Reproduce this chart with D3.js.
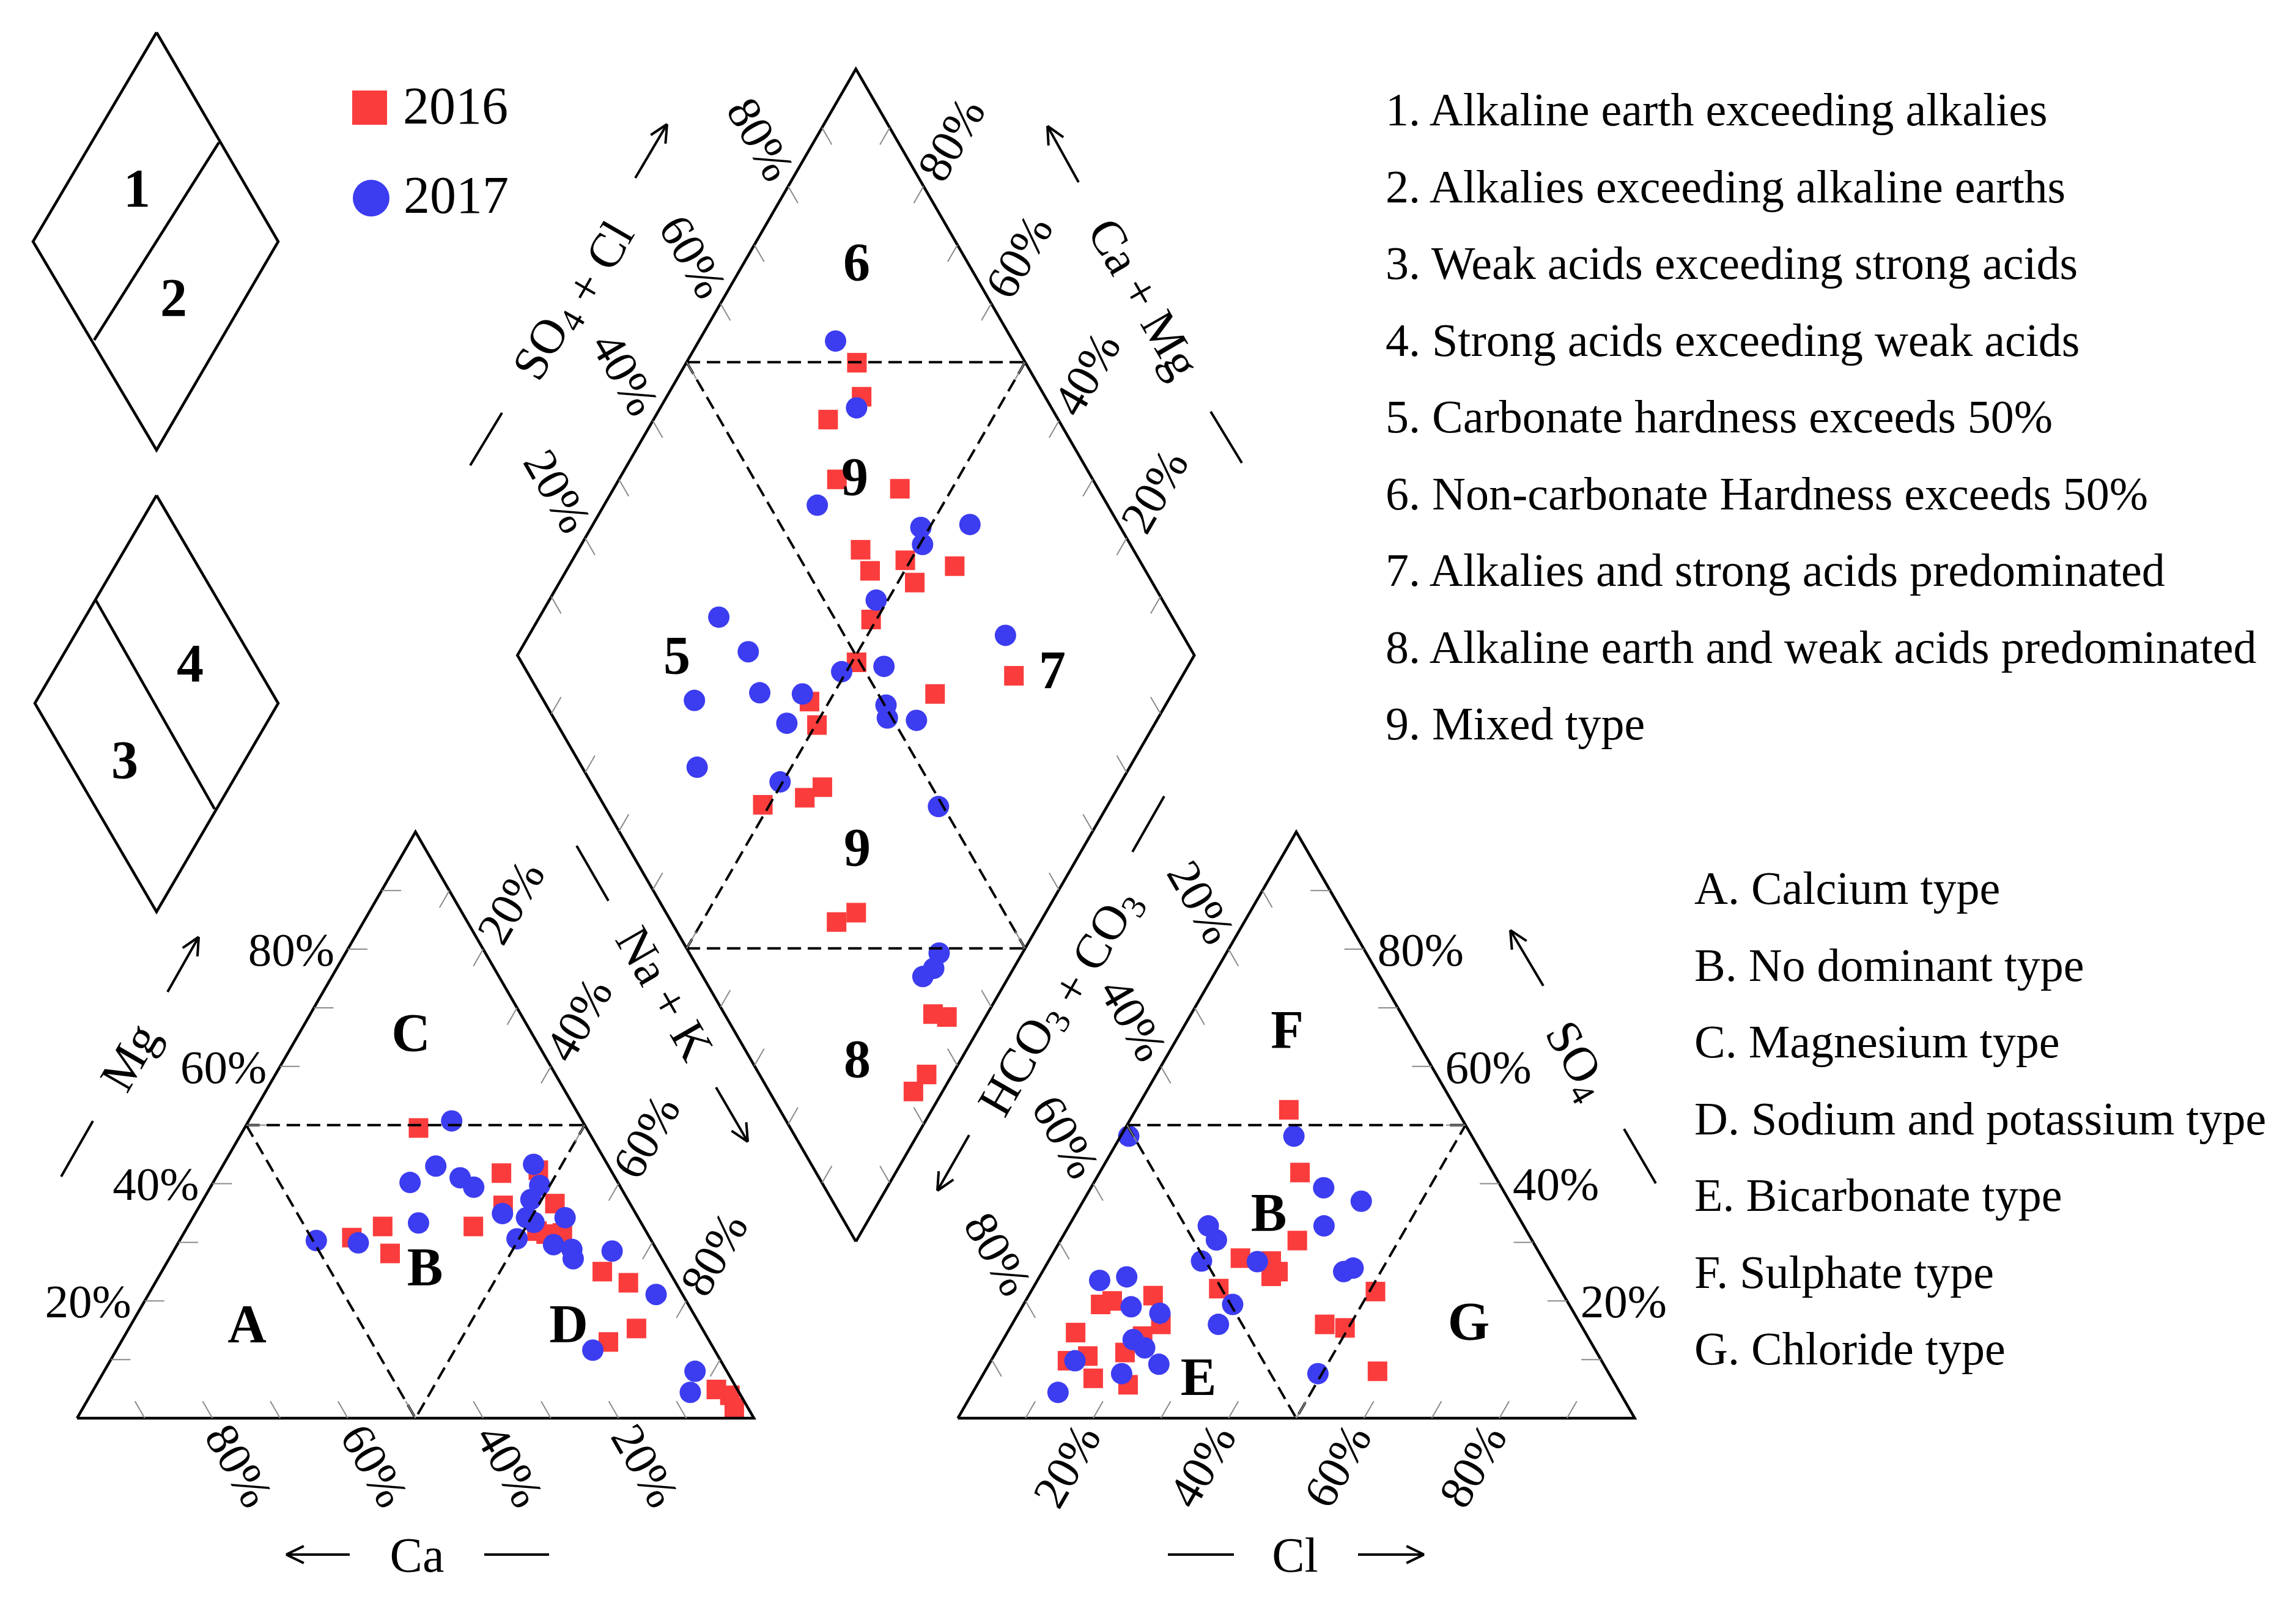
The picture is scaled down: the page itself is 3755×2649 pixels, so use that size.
<!DOCTYPE html>
<html>
<head>
<meta charset="utf-8">
<script src="https://cdn.jsdelivr.net/npm/d3@7"></script>
<style>
body { margin: 0; background: #fff; }
svg { display: block; }
text { font-family: "Liberation Serif", "Times New Roman", serif; fill: #000; }
</style>
</head>
<body>
<div id="chart"></div>
<script>
// values, in percent
const years = ["2016", "2017"];

// cation triangle: [Mg, Na+K]
const cation2016 = [[49.5,25.7],[41.8,41.8],[42.3,47.0],[36.3,44.8],[36.6,52.3],[32.7,42.2],[32.7,28.8],[30.8,25.2],[28.1,32.2],[31.9,52.0],[31.6,55.9],[31.4,53.6],[25.0,65.1],[23.1,69.9],[15.3,75.0],[13.0,72.0],[4.9,92.0],[3.9,94.5],[1.8,96.2]];
const cation2017 = [[50.7,30.0],[43.0,31.5],[40.2,29.1],[41.0,36.1],[39.4,38.9],[43.3,45.8],[39.7,48.5],[37.3,48.4],[34.9,45.4],[34.2,49.3],[33.4,50.8],[34.2,55.0],[33.3,33.8],[30.3,20.2],[29.9,26.6],[30.6,49.7],[29.6,55.6],[28.8,58.7],[27.2,59.7],[28.5,64.8],[21.1,75.0],[11.6,70.4],[8.0,87.3],[4.4,88.4]];

// anion triangle: [SO4, Cl]
const anion2016 = [[52.6,22.6],[41.9,29.6],[30.3,35.0],[27.3,28.1],[26.8,32.9],[25.0,34.8],[24.2,34.2],[22.1,27.5],[21.6,50.9],[16.0,46.2],[15.4,49.5],[8.0,58.0],[20.9,18.4],[19.4,11.4],[20.0,12.8],[16.0,22.0],[14.6,10.1],[10.6,13.9],[9.8,11.3],[6.8,16.6],[11.2,19.1],[5.7,22.3],[14.0,20.3]];
const anion2017 = [[48.1,1.2],[48.1,25.6],[39.3,34.4],[37.0,41.1],[32.8,37.7],[32.8,20.6],[30.4,23.0],[26.8,22.6],[26.7,30.9],[25.0,44.5],[25.6,45.6],[19.4,30.9],[16.0,30.5],[23.5,9.2],[24.1,12.9],[19.0,16.1],[17.9,20.9],[13.4,19.2],[12.0,21.6],[9.2,25.1],[9.8,12.4],[7.6,20.4],[4.4,12.6],[7.6,49.4]];

// diamond: [SO4+Cl, Ca+Mg]
const diamond2016 = [[75.1,74.8],[72.9,71.2],[66.0,74.2],[62.2,67.8],[70.7,57.7],[59.7,58.3],[59.3,55.1],[65.4,50.8],[64.9,47.5],[72.2,43.0],[55.3,50.8],[49.5,49.3],[71.6,24.9],[58.4,35.0],[39.2,52.9],[38.3,49.8],[23.5,51.0],[30.3,45.4],[33.8,43.7],[24.4,30.1],[28.1,28.0],[30.8,8.0],[32.6,5.7],[24.7,3.8],[21.3,4.3]];
const diamond2017 = [[73.8,79.8],[71.2,71.0],[57.1,68.5],[70.5,51.3],[69.3,49.6],[78.0,44.3],[57.7,51.7],[73.8,29.6],[33.0,73.5],[34.4,66.2],[46.5,50.7],[53.2,44.9],[22.3,70.0],[32.6,61.0],[38.8,54.6],[50.2,41.3],[49.3,40.0],[53.4,35.5],[34.0,54.4],[17.0,63.9],[28.0,50.4],[49.3,24.9],[36.9,12.3],[34.8,11.8],[32.5,12.7]];

const tickValues = [10, 20, 30, 40, 50, 60, 70, 80, 90];
const tickLabels = [20, 40, 60, 80];

const diamondClasses = [
  "1. Alkaline earth exceeding alkalies",
  "2. Alkalies exceeding alkaline earths",
  "3. Weak acids exceeding strong acids",
  "4. Strong acids exceeding weak acids",
  "5. Carbonate hardness exceeds 50%",
  "6. Non-carbonate Hardness exceeds 50%",
  "7. Alkalies and strong acids predominated",
  "8. Alkaline earth and weak acids predominated",
  "9. Mixed type"
];
const triangleClasses = [
  "A. Calcium type",
  "B. No dominant type",
  "C. Magnesium type",
  "D. Sodium and potassium type",
  "E. Bicarbonate type",
  "F. Sulphate type",
  "G. Chloride type"
];

const red = "#fb3c3c", blue = "#3c3cf0";

const width = 3755, height = 2649;
const side = 1107, gap = 333.5, baseY = 2319, x0L = 126;
const r3 = Math.sqrt(3) / 2;

// percent -> pixel
const len = d3.scaleLinear().domain([0, 100]).range([0, side]);
const hgt = d3.scaleLinear().domain([0, 100]).range([0, side * r3]);

const x0R = x0L + side + gap;
const bx = x0L + side + gap / 2, by = baseY - gap * r3;

function cat(mg, nak) { return [x0L + len(nak + mg / 2), baseY - hgt(mg)]; }
function an(so4, cl) { return [x0R + len(cl + so4 / 2), baseY - hgt(so4)]; }
function dia(a, m) { return [bx + len(a - m) / 2, by - hgt(a + m)]; }

const svg = d3.select("#chart").append("svg")
  .attr("width", width).attr("height", height);

const gMarks = svg.append("g");
const gLines = svg.append("g");
const gText = svg.append("g");

// markers
function squares(pts, f) {
  gMarks.selectAll(null).data(pts).join("rect")
    .attr("x", d => f(d[0], d[1])[0] - 16)
    .attr("y", d => f(d[0], d[1])[1] - 16)
    .attr("width", 32).attr("height", 32)
    .attr("fill", red);
}
function circles(pts, f) {
  gMarks.selectAll(null).data(pts).join("circle")
    .attr("cx", d => f(d[0], d[1])[0])
    .attr("cy", d => f(d[0], d[1])[1])
    .attr("r", 17.5)
    .attr("fill", blue);
}
squares(cation2016, cat);
squares(anion2016, an);
squares(diamond2016, dia);
circles(cation2017, cat);
circles(anion2017, an);
circles(diamond2017, dia);

const line = d3.line();

function poly(pts, dashed) {
  gLines.append("path")
    .attr("d", line(pts))
    .attr("fill", "none")
    .attr("stroke", "#000")
    .attr("stroke-width", dashed ? 4 : 4.5)
    .attr("stroke-dasharray", dashed ? "22,11" : null)
    .attr("stroke-linejoin", "miter");
}

// outlines
poly([cat(0, 0), cat(0, 100), cat(100, 0), cat(0, 0)]);
poly([an(0, 0), an(0, 100), an(100, 0), an(0, 0)]);
poly([dia(0, 0), dia(100, 0), dia(100, 100), dia(0, 100), dia(0, 0)]);

// class boundaries
poly([cat(50, 0), cat(50, 50)], true);
poly([cat(50, 0), cat(0, 50), cat(50, 50)], true);
poly([an(50, 0), an(50, 50)], true);
poly([an(50, 0), an(0, 50), an(50, 50)], true);
poly([dia(50, 100), dia(100, 50)], true);
poly([dia(0, 50), dia(50, 0)], true);
poly([dia(50, 100), dia(50, 0)], true);
poly([dia(100, 50), dia(0, 50)], true);

// ticks: point function, inward direction
function ticks(f, dir) {
  tickValues.forEach(t => {
    const p = f(t);
    gLines.append("line")
      .attr("x1", p[0]).attr("y1", p[1])
      .attr("x2", p[0] + dir[0] * 32).attr("y2", p[1] + dir[1] * 32)
      .attr("stroke", "#8a8a8a").attr("stroke-width", 2);
  });
}
ticks(t => cat(t, 0), [1, 0]);
ticks(t => cat(0, 100 - t), [-0.5, -r3]);
ticks(t => cat(100 - t, t), [-0.5, r3]);
ticks(t => an(100 - t, 0), [0.5, r3]);
ticks(t => an(0, t), [0.5, -r3]);
ticks(t => an(t, 100 - t), [-1, 0]);
ticks(t => dia(t, 100), [0.5, r3]);
ticks(t => dia(100, t), [-0.5, r3]);
ticks(t => dia(0, t), [0.5, -r3]);
ticks(t => dia(t, 0), [-0.5, -r3]);

function text(x, y, angle, anchor, txt, size, weight) {
  return gText.append("text")
    .attr("transform", `translate(${x},${y}) rotate(${angle})`)
    .attr("text-anchor", anchor)
    .attr("dy", "0.35em")
    .attr("font-size", size)
    .attr("font-weight", weight || "normal")
    .text(txt);
}

// tick labels
function tickText(f, out, angle, anchor) {
  tickLabels.forEach(t => {
    const p = f(t);
    text(p[0] + out[0], p[1] + out[1], angle, anchor, t + "%", 77);
  });
}
tickText(t => cat(t, 0), [-22, 0], 0, "end");
tickText(t => cat(0, 100 - t), [9, 16], 60, "start");
tickText(t => cat(100 - t, t), [9, -16], -60, "start");
tickText(t => an(100 - t, 0), [-9, -16], 60, "end");
tickText(t => an(0, t), [-9, 16], -60, "end");
tickText(t => an(t, 100 - t), [22, 0], 0, "start");
tickText(t => dia(t, 100), [-9, -16], 60, "end");
tickText(t => dia(100, t), [9, -16], -60, "start");

// arrows
function arrow(x1, y1, x2, y2, head) {
  gLines.append("line")
    .attr("x1", x1).attr("y1", y1).attr("x2", x2).attr("y2", y2)
    .attr("stroke", "#000").attr("stroke-width", 4);
  if (head) {
    const a = Math.atan2(y2 - y1, x2 - x1);
    [0.45, -0.45].forEach(da => {
      gLines.append("line")
        .attr("x1", x2).attr("y1", y2)
        .attr("x2", x2 - 32 * Math.cos(a + da))
        .attr("y2", y2 - 32 * Math.sin(a + da))
        .attr("stroke", "#000").attr("stroke-width", 4);
    });
  }
}
arrow(274, 1622, 325, 1532, true);
arrow(100, 1924, 152, 1833);
arrow(572, 2542, 468, 2542, true);
arrow(792, 2542, 898, 2542);
arrow(943, 1383, 995, 1473);
arrow(1171, 1778, 1223, 1867, true);
arrow(1852, 1393, 1904, 1302);
arrow(1585, 1856, 1533, 1947, true);
arrow(1910, 2542, 2018, 2542);
arrow(2221, 2542, 2329, 2542, true);
arrow(2524, 1612, 2470, 1521, true);
arrow(2656, 1846, 2708, 1935);
arrow(1039, 291, 1091, 203, true);
arrow(769, 761, 821, 675);
arrow(1764, 298, 1713, 206, true);
arrow(1980, 673, 2031, 757);

// axis titles
function title(x, y, angle, parts) {
  const t = gText.append("text")
    .attr("transform", `translate(${x},${y}) rotate(${angle})`)
    .attr("text-anchor", "middle")
    .attr("dy", "0.35em")
    .attr("font-size", 80);
  parts.forEach(p => {
    if (p.sub) {
      t.append("tspan").attr("font-size", 56).attr("dy", 14).text(p.t);
      t.append("tspan").attr("dy", -14).text("");
    } else {
      t.append("tspan").text(p.t);
    }
  });
}
title(211, 1728, -60, [{t: "Mg"}]);
title(682, 2542, 0, [{t: "Ca"}]);
title(1088, 1624, 60, [{t: "Na + K"}]);
title(1724, 1634, -60, [{t: "HCO"}, {t: "3", sub: true}, {t: " + CO"}, {t: "3", sub: true}]);
title(2118, 2542, 0, [{t: "Cl"}]);
title(2582, 1732, 60, [{t: "SO"}, {t: "4", sub: true}]);
title(930, 487, -60, [{t: "SO"}, {t: "4", sub: true}, {t: " + Cl"}]);
title(1872, 487, 60, [{t: "Ca + Mg"}]);

// region labels
const regionLabels = [
  ["C", 672, 1687], ["A", 404, 2163], ["B", 695, 2070], ["D", 930, 2163],
  ["F", 2105, 1682], ["B", 2075, 1981], ["E", 1960, 2250], ["G", 2402, 2159],
  ["6", 1401, 427], ["9", 1398, 778], ["5", 1107, 1070], ["7", 1721, 1094],
  ["9", 1402, 1384], ["8", 1402, 1730]
];
regionLabels.forEach(d => text(d[1], d[2], 0, "middle", d[0], 88, "bold"));

// schematic diamonds
function schematic(pts, div) {
  poly(pts.concat([pts[0]]));
  poly(div);
}
schematic([[256, 53], [455, 395], [256, 736], [54, 395]], [[358, 233], [154, 556]]);
schematic([[256, 810], [455, 1150], [256, 1491], [57, 1150]], [[157, 982], [351, 1323]]);
text(224, 306, 0, "middle", "1", 88, "bold");
text(284, 485, 0, "middle", "2", 88, "bold");
text(311, 1083, 0, "middle", "4", 88, "bold");
text(204, 1241, 0, "middle", "3", 88, "bold");

// series legend
gText.append("rect").attr("x", 576).attr("y", 148).attr("width", 57).attr("height", 56).attr("fill", red);
gText.append("circle").attr("cx", 607).attr("cy", 324).attr("r", 30).attr("fill", blue);
gText.append("text").attr("x", 659).attr("y", 202).attr("font-size", 86).text(years[0]);
gText.append("text").attr("x", 660).attr("y", 348).attr("font-size", 86).text(years[1]);

// class legends
diamondClasses.forEach((s, i) => {
  gText.append("text").attr("x", 2266).attr("y", 205 + i * 125.5)
    .attr("font-size", 76).text(s);
});
triangleClasses.forEach((s, i) => {
  gText.append("text").attr("x", 2771).attr("y", 1478 + i * 125.5)
    .attr("font-size", 76).text(s);
});
</script>
</body>
</html>
